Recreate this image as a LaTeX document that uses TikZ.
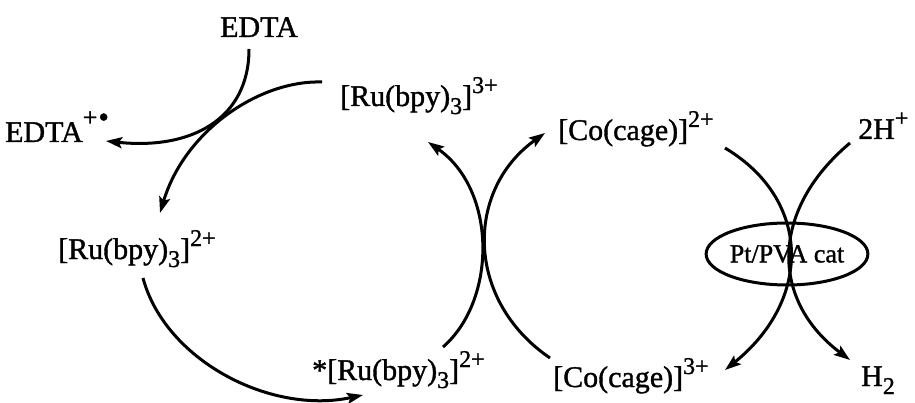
\documentclass[tikz,border=0pt]{standalone}
\usepackage{fontspec}
\setmainfont{Liberation Serif}[FakeBold=1.2]
\usetikzlibrary{arrows.meta,shapes.geometric}
\newcommand{\mysup}[1]{\raisebox{13pt}{\fontsize{24}{24}\selectfont #1}}
\newcommand{\mysub}[1]{\raisebox{-8pt}{\fontsize{24}{24}\selectfont #1}}
\begin{document}
\begin{tikzpicture}[x=1pt,y=-1pt,
  lbl/.style={anchor=base west,inner sep=0pt,font=\fontsize{30}{36}\selectfont},
  conn/.style={line width=3pt,-{Stealth[length=16pt,width=11pt,inset=3pt]}},
  catbox/.style={draw,line width=3pt,ellipse,minimum width=160pt,minimum height=62pt,inner sep=0pt,font=\fontsize{26}{30}\selectfont}]
\useasboundingbox (0,0) rectangle (915,403);
% labels
\node[lbl] (edta) at (220,37) {EDTA};
\node[lbl] (edtaox) at (5,142) {EDTA\kern0pt\raisebox{16pt}{\fontsize{26}{26}\selectfont +}\kern1pt\raisebox{15pt}{\fontsize{30}{30}\selectfont\textbullet}};
\node[lbl] (ru3) at (340,106) {[Ru(bpy)\mysub{3}]\mysup{3+}};
\node[lbl] (co2) at (558,140) {[Co(cage)]\mysup{2+}};
\node[lbl] (hp) at (858,139) {2H\mysup{+}};
\node[lbl] (ru2) at (58,259) {[Ru(bpy)\mysub{3}]\mysup{2+}};
\node[lbl] (ru2s) at (312,380) {*[Ru(bpy)\mysub{3}]\mysup{2+}};
\node[lbl] (co3) at (553,387) {[Co(cage)]\mysup{3+}};
\node[lbl] (h2) at (861,386) {H\mysub{2}};
% connector ends
\coordinate (a1) at (249,49);   \coordinate (b1) at (106,141);
\coordinate (a2) at (322,82);   \coordinate (b2) at (160,213);
\coordinate (a3) at (143,278);  \coordinate (b3) at (363,395);
\coordinate (a4) at (443,347);  \coordinate (b4) at (428,142);
\coordinate (a5) at (550,358);  \coordinate (b5) at (545,133);
\coordinate (a6) at (725,148);  \coordinate (b6) at (725,370);
\coordinate (a7) at (850,143);  \coordinate (b7) at (850,360);
% connectors
\draw[conn] (a1) .. controls (249,120) and (190,150) .. (b1);
\draw[conn] (a2) .. controls (260,80) and (185,130) .. (b2);
\draw[conn] (a3) .. controls (165,360) and (270,415) .. (b3);
\draw[conn] (a4) .. controls (497,300) and (497,190) .. (b4);
\draw[conn] (a5) .. controls (465,300) and (465,190) .. (b5);
\draw[conn] (a6) .. controls (812,200) and (812,300) .. (b6);
\draw[conn] (a7) .. controls (770,210) and (770,300) .. (b7);
\node[catbox] (cat) at (787,254) {Pt/PVA cat};
\end{tikzpicture}
\end{document}
